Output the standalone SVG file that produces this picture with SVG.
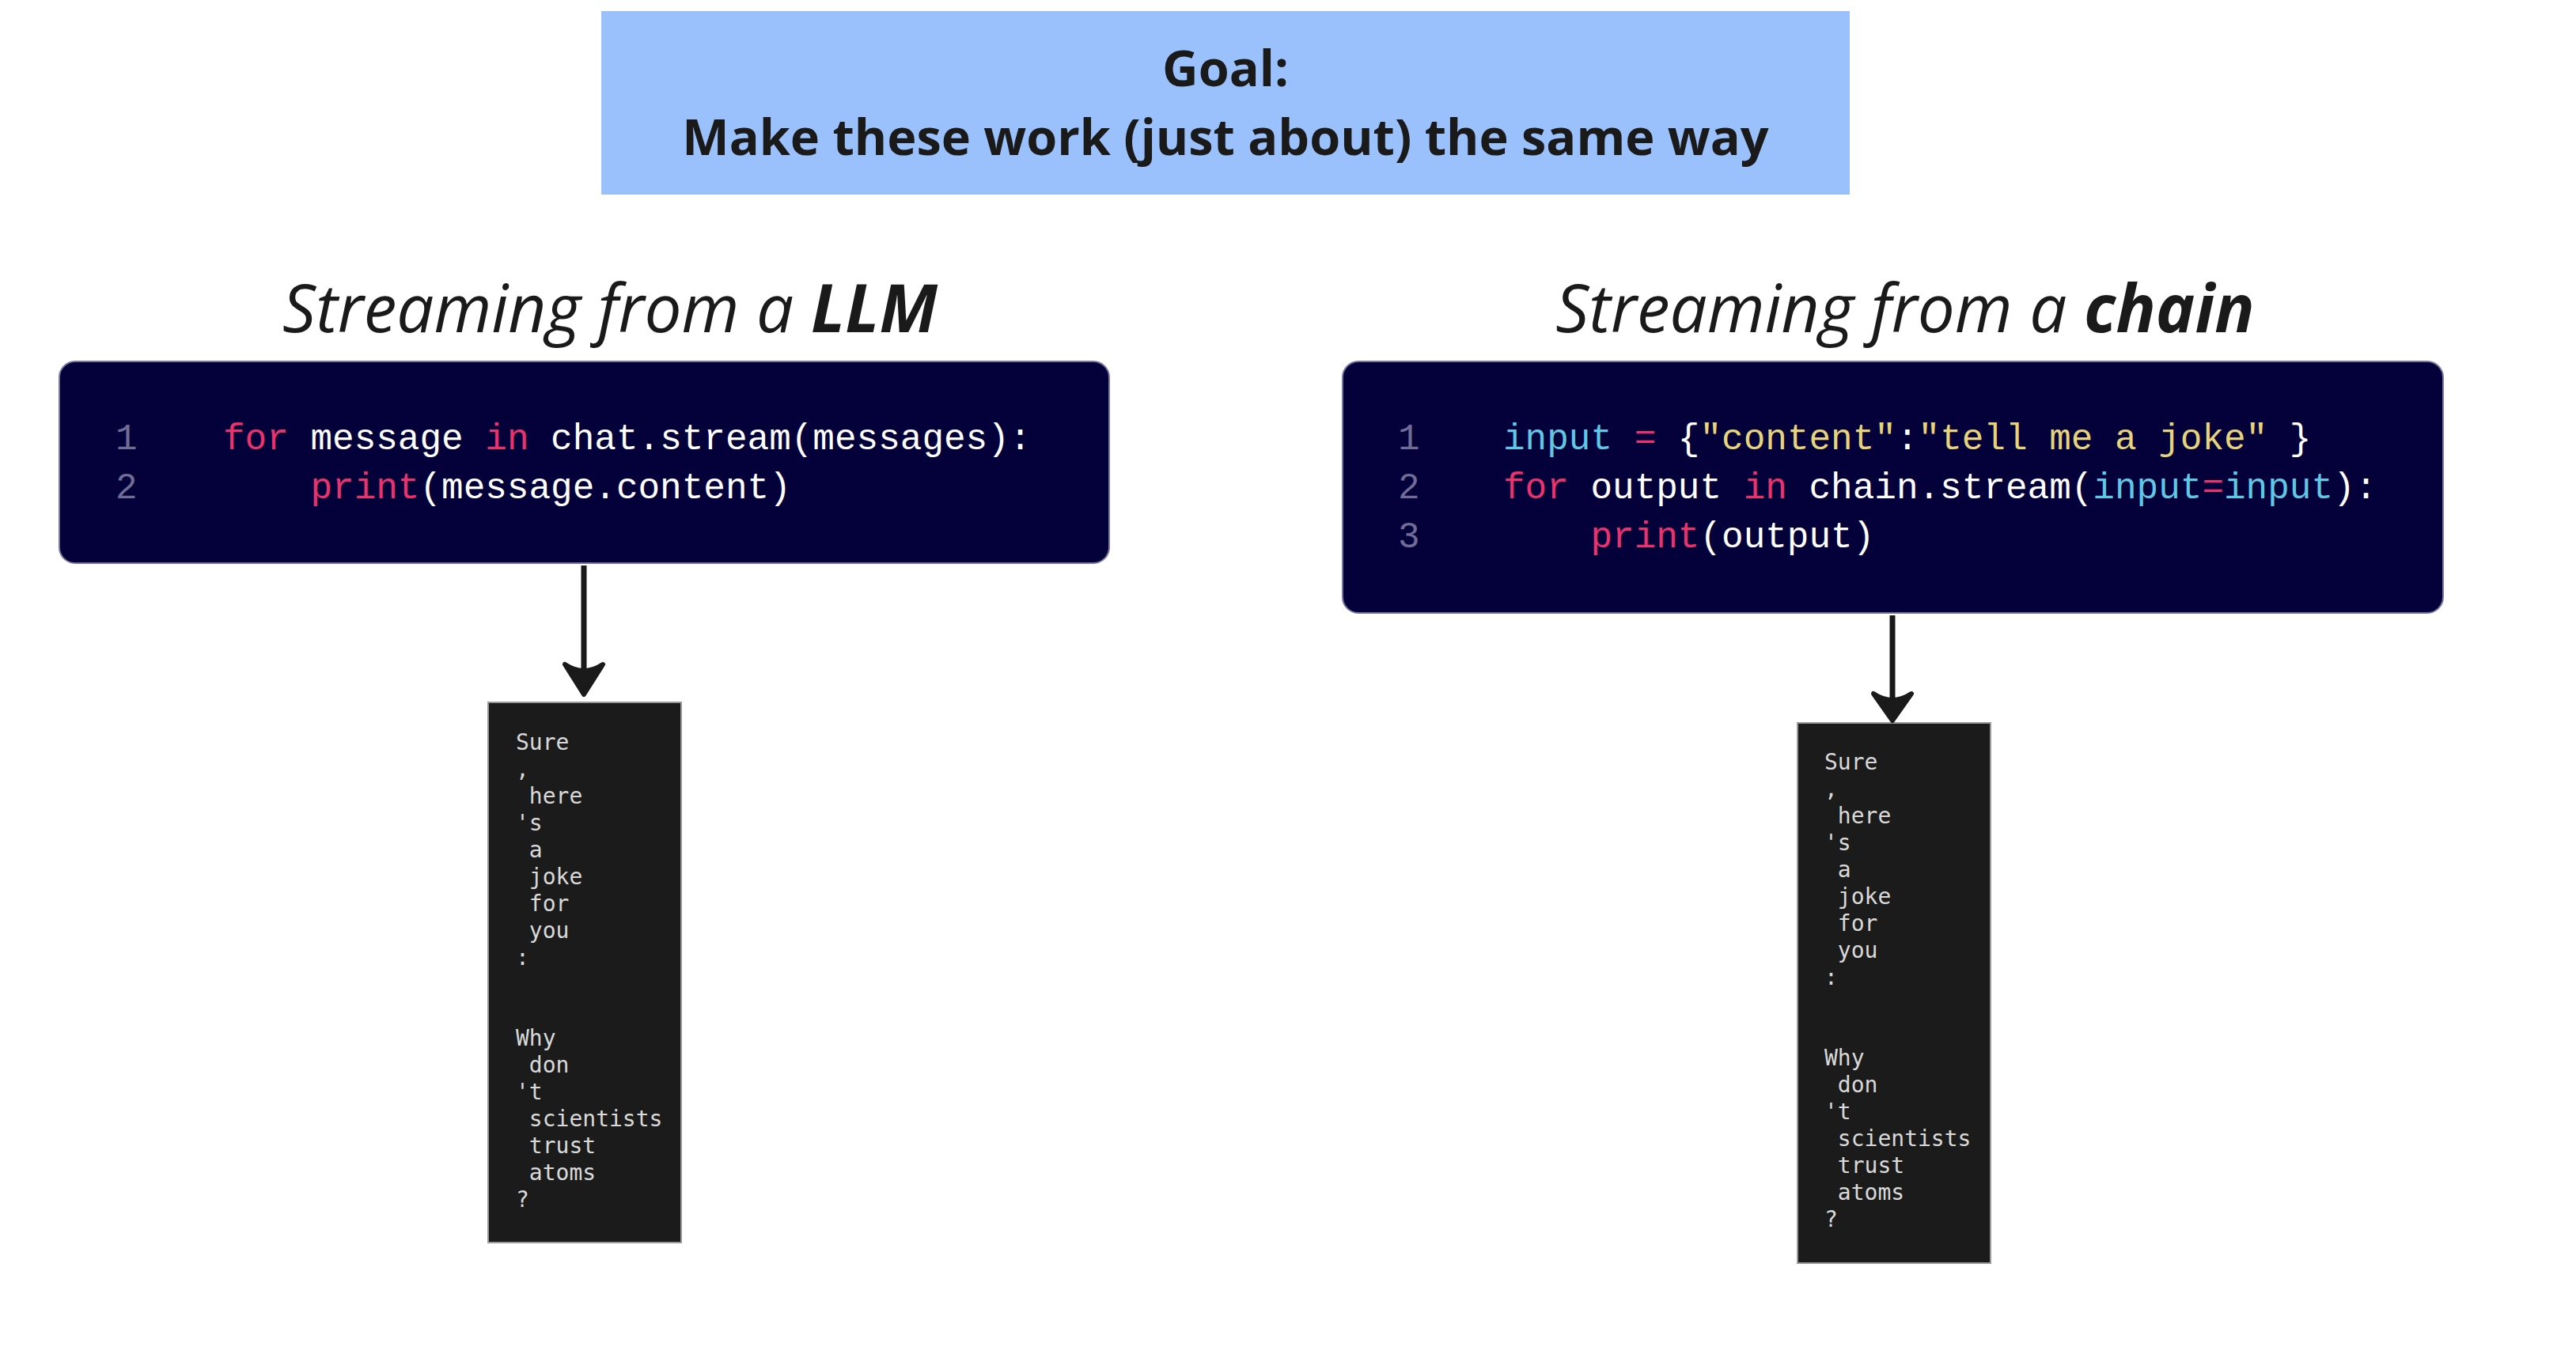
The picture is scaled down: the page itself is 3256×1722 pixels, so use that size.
<svg xmlns="http://www.w3.org/2000/svg" width="3256" height="1722" viewBox="0 0 3256 1722">
<style>
.goal{font-family:"Open Sans","Noto Sans",sans-serif;font-weight:700;font-size:63px;fill:#1a1a1a;text-anchor:middle}
.title{font-family:"Open Sans","Noto Sans",sans-serif;font-style:italic;font-size:83.5px;fill:#1a1a1a;text-anchor:middle}
.title .b{font-weight:700}
.codebox{fill:#04003a;stroke:#7a779e;stroke-width:2}
.code{font-family:"Liberation Mono","DejaVu Sans Mono",monospace;font-size:46px;fill:#ffffff}
.ln{fill:#6f6c96}
.kw{fill:#e8336d}
.cy{fill:#5ec8e5}
.st{fill:#e6d47c}
.outbox{fill:#1b1b1b;stroke:#9a9a9a;stroke-width:2}
.out{font-family:"DejaVu Sans Mono","Liberation Mono",monospace;font-size:28px;fill:#d9d9d9}
.conn{stroke:#1a1a1a;stroke-width:7;fill:none}
.head{fill:#1a1a1a;stroke:#1a1a1a;stroke-width:6;stroke-linejoin:round}
</style>

<g id="goal">
<rect x="760" y="14" width="1578" height="232" fill="#9ac1fb"/>
<text class="goal" x="1549" y="109">Goal:</text>
<text class="goal" x="1549" y="196">Make these work (just about) the same way</text>
</g>

<g id="title-llm">
<text class="title" x="771" y="420">Streaming from a <tspan class="b">LLM</tspan></text>
</g>

<g id="title-chain">
<text class="title" x="2408" y="420">Streaming from a <tspan class="b">chain</tspan></text>
</g>

<g id="code-llm">
<rect class="codebox" x="75" y="457" width="1327" height="255" rx="20"/>
<text class="code ln" x="146" y="568">1</text>
<text class="code ln" x="146" y="630">2</text>
<text class="code" x="282" y="568" xml:space="preserve"><tspan class="kw">for</tspan> message <tspan class="kw">in</tspan> chat.stream(messages):</text>
<text class="code" x="282" y="630" xml:space="preserve">    <tspan class="kw">print</tspan>(message.content)</text>
</g>

<g id="code-chain">
<rect class="codebox" x="1697" y="457" width="1391" height="318" rx="20"/>
<text class="code ln" x="1767" y="568">1</text>
<text class="code ln" x="1767" y="630">2</text>
<text class="code ln" x="1767" y="692">3</text>
<text class="code" x="1900" y="568" xml:space="preserve"><tspan class="cy">input</tspan> <tspan class="kw">=</tspan> {<tspan class="st">"content"</tspan>:<tspan class="st">"tell me a joke"</tspan> }</text>
<text class="code" x="1900" y="630" xml:space="preserve"><tspan class="kw">for</tspan> output <tspan class="kw">in</tspan> chain.stream(<tspan class="cy">input</tspan><tspan class="kw">=</tspan><tspan class="cy">input</tspan>):</text>
<text class="code" x="1900" y="692" xml:space="preserve">    <tspan class="kw">print</tspan>(output)</text>
</g>

<g id="output-llm">
<rect class="outbox" x="617" y="888" width="244" height="683"/>
<text class="out" xml:space="preserve"><tspan x="652" y="948">Sure</tspan><tspan x="652" y="982">,</tspan><tspan x="652" y="1016"> here</tspan><tspan x="652" y="1050">'s</tspan><tspan x="652" y="1084"> a</tspan><tspan x="652" y="1118"> joke</tspan><tspan x="652" y="1152"> for</tspan><tspan x="652" y="1186"> you</tspan><tspan x="652" y="1220">:</tspan><tspan x="652" y="1322">Why</tspan><tspan x="652" y="1356"> don</tspan><tspan x="652" y="1390">'t</tspan><tspan x="652" y="1424"> scientists</tspan><tspan x="652" y="1458"> trust</tspan><tspan x="652" y="1492"> atoms</tspan><tspan x="652" y="1526">?</tspan></text>
</g>

<g id="output-chain">
<rect class="outbox" x="2272" y="914" width="244" height="683"/>
<text class="out" xml:space="preserve"><tspan x="2306" y="973">Sure</tspan><tspan x="2306" y="1007">,</tspan><tspan x="2306" y="1041"> here</tspan><tspan x="2306" y="1075">'s</tspan><tspan x="2306" y="1109"> a</tspan><tspan x="2306" y="1143"> joke</tspan><tspan x="2306" y="1177"> for</tspan><tspan x="2306" y="1211"> you</tspan><tspan x="2306" y="1245">:</tspan><tspan x="2306" y="1347">Why</tspan><tspan x="2306" y="1381"> don</tspan><tspan x="2306" y="1415">'t</tspan><tspan x="2306" y="1449"> scientists</tspan><tspan x="2306" y="1483"> trust</tspan><tspan x="2306" y="1517"> atoms</tspan><tspan x="2306" y="1551">?</tspan></text>
</g>

<g id="connectors">
<line class="conn" x1="738" y1="715" x2="738" y2="850"/>
<path class="head" d="M714,840 L738,878 L762,840 Q738,856 714,840 Z"/>
<line class="conn" x1="2392" y1="778" x2="2392" y2="885"/>
<path class="head" d="M2368,877 L2392,911 L2416,877 Q2392,893 2368,877 Z"/>
</g>
</svg>
